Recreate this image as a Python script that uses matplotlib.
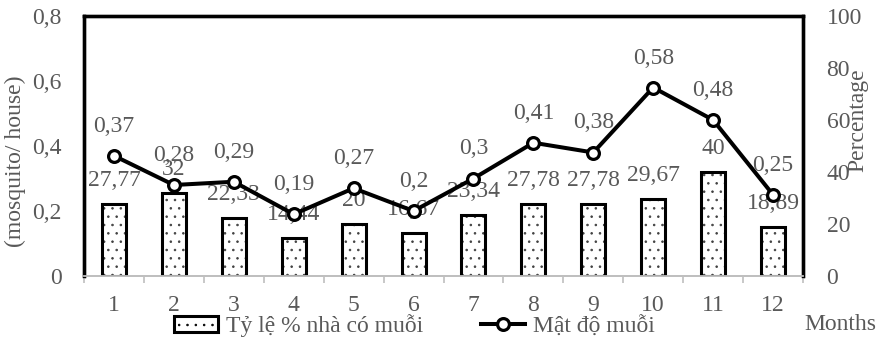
import matplotlib
matplotlib.use("Agg")
import matplotlib.pyplot as plt
import numpy as np

plt.rcParams['font.family'] = ['Liberation Serif', 'DejaVu Serif']
plt.rcParams['hatch.linewidth'] = 0.6

months = [1, 2, 3, 4, 5, 6, 7, 8, 9, 10, 11, 12]
density = [0.37, 0.28, 0.29, 0.19, 0.27, 0.2, 0.3, 0.41, 0.38, 0.58, 0.48, 0.25]
pct_houses = [27.77, 32, 22.33, 14.44, 20, 16.67, 23.34, 27.78, 27.78, 29.67, 40, 18.89]
left_ticks = [0, 0.2, 0.4, 0.6, 0.8]
left_tick_labels = ['0', '0,2', '0,4', '0,6', '0,8']
right_ticks = [0, 20, 40, 60, 80, 100]

bar_label = 'Tỷ lệ % nhà có muỗi'
line_label = 'Mật độ muỗi'

GREY = '#595959'
FS = 17


def fmt(v):
    return ('%g' % v).replace('.', ',')


fig = plt.figure(figsize=(8.85, 3.49), dpi=100)
ax = fig.add_axes([84 / 885, 73 / 349, (803 - 84) / 885, (276 - 16) / 349])
ax2 = ax.twinx()

# dotted fill, then a plain black outline on top
ax2.bar(months, pct_houses, width=0.4, facecolor='white', edgecolor='#404040',
        linewidth=0, hatch='..', zorder=2)
bars = ax2.bar(months, pct_houses, width=0.4, facecolor='none', edgecolor='black',
               linewidth=2.2, zorder=3)
for x, v in zip(months, pct_houses):
    ax2.annotate(fmt(v), (x, v), xytext=(0, 18), textcoords='offset pixels',
                 ha='center', va='baseline', fontsize=FS, color=GREY)

# density line on the left axis, above the bars
ax.set_zorder(ax2.get_zorder() + 1)
ax.patch.set_visible(False)
line, = ax.plot(months, density, color='black', linewidth=2.9, marker='o',
                markersize=8.5, markerfacecolor='white', markeredgecolor='black',
                markeredgewidth=2.3, zorder=3)
for x, v in zip(months, density):
    ax.annotate(fmt(v), (x, v), xytext=(0, 24), textcoords='offset pixels',
                ha='center', va='baseline', fontsize=FS, color=GREY)

ax.set_xlim(0.5, 12.5)
ax.set_ylim(0, 0.8)
ax2.set_ylim(0, 100)

ax.set_yticks(left_ticks)
ax.set_yticklabels(left_tick_labels)
ax2.set_yticks(right_ticks)
ax.set_xticks(months)
ax.set_xticks(np.arange(0.5, 13, 1), minor=True)

ax.tick_params(axis='y', length=0, pad=16, labelsize=FS, labelcolor=GREY)
ax2.tick_params(axis='y', length=0, pad=17, labelsize=FS, labelcolor=GREY)
ax.tick_params(axis='x', which='major', length=0, pad=14, labelsize=FS, labelcolor=GREY)
ax.tick_params(axis='x', which='minor', length=5, width=1.2, color='#bfbfbf')

for a in (ax, ax2):
    for side in ('left', 'top', 'right'):
        a.spines[side].set_color('black')
        a.spines[side].set_linewidth(2.4)
    a.spines['bottom'].set_color('#bfbfbf')
    a.spines['bottom'].set_linewidth(1.3)

fig.text(15 / 885, 1 - 161 / 349, '(mosquito/ house)', rotation=90, ha='center',
         va='center', fontsize=FS, color=GREY)
fig.text(858 / 885, 1 - 120 / 349, 'Percentage', rotation=90, ha='center',
         va='center', fontsize=FS, color=GREY)
fig.text(840 / 885, 1 - 325 / 349, 'Months', ha='center', va='center',
         fontsize=FS, color=GREY)

# legend handle for the bars: dotted fill with a black outline
from matplotlib.patches import Patch
bar_handle = Patch(facecolor='white', edgecolor='black', linewidth=2.2, hatch='..')

fig.legend([bar_handle, line], [bar_label, line_label], loc='center',
           bbox_to_anchor=(414 / 885, 1 - 326 / 349), ncol=2, frameon=False,
           fontsize=FS, labelcolor=GREY, handlelength=1.9, handleheight=0.65,
           handletextpad=0.3, columnspacing=2.45, borderpad=0, borderaxespad=0)

fig.savefig('out.png', dpi=100)
